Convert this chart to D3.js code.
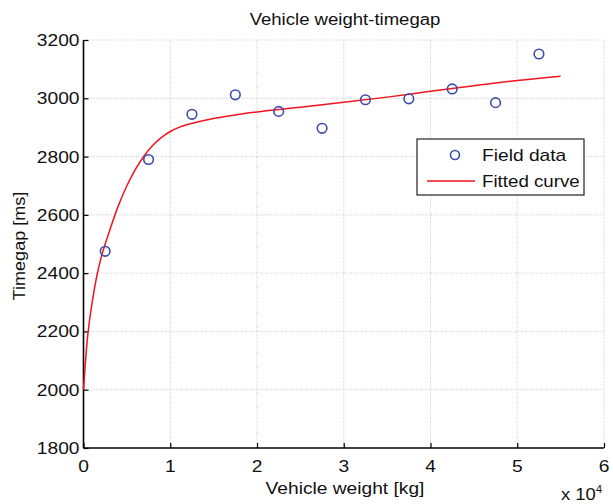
<!DOCTYPE html>
<html>
<head>
<meta charset="utf-8">
<script src="https://cdn.jsdelivr.net/npm/d3@7"></script>
<style>
  body { margin: 0; background: #fff; }
  text { font-family: "Liberation Sans", Arial, sans-serif; fill: #111; font-size: 16px; }
</style>
</head>
<body>
<div id="chart"></div>
<script>
// field data (weight in kg, timegap in ms)
var fieldWeight = [2500, 7500, 12500, 17500, 22500, 27500, 32500, 37500, 42500, 47500, 52500]
var fieldGap = [2475, 2790, 2945, 3012, 2955, 2897, 2995, 2998, 3032, 2985, 3152]

// fitted curve
var fitWeight = [0, 500, 1000, 1500, 2000, 2500, 3000, 4000, 5000, 6000, 7000, 8000, 9000, 10000, 11000, 12000, 13000, 15000, 17500, 20000, 25000, 30000, 35000, 40000, 45000, 50000, 55000]
var fitGap = [2000, 2190, 2300, 2385, 2450, 2500, 2545, 2630, 2700, 2757, 2803, 2839, 2866, 2886, 2900, 2910, 2918, 2931, 2943, 2953, 2969, 2986, 3004, 3024, 3043, 3061, 3076]

var xTicks = [0, 1, 2, 3, 4, 5, 6]
var yTicks = [1800, 2000, 2200, 2400, 2600, 2800, 3000, 3200]

var width = 613
var height = 504
var margin = { left: 83.5, right: 9, top: 40, bottom: 56 }
var sx = 1.2 // the picture's text is a bit wider than the font

var svg = d3.select("#chart")
  .append("svg")
  .attr("width", width)
  .attr("height", height)

var x = d3.scaleLinear()
  .domain([0, 60000])
  .range([margin.left, width - margin.right])

var y = d3.scaleLinear()
  .domain([1800, 3200])
  .range([height - margin.bottom, margin.top])

function wideText(parent, px, py, anchor, str, k) {
  return parent.append("text")
    .attr("transform", "translate(" + px + "," + py + ") scale(" + (k || sx) + ",1)")
    .attr("text-anchor", anchor)
    .text(str)
}

// grid
svg.append("g")
  .selectAll("line")
  .data(xTicks.slice(1))
  .enter()
  .append("line")
  .attr("x1", function (d) { return x(d * 10000) })
  .attr("x2", function (d) { return x(d * 10000) })
  .attr("y1", y(1800))
  .attr("y2", y(3200))
  .attr("stroke", "#bbb")
  .attr("stroke-width", 0.8)
  .attr("stroke-dasharray", "1,1.5")

svg.append("g")
  .selectAll("line")
  .data(yTicks.slice(1))
  .enter()
  .append("line")
  .attr("x1", x(0))
  .attr("x2", x(60000))
  .attr("y1", function (d) { return y(d) })
  .attr("y2", function (d) { return y(d) })
  .attr("stroke", "#bbb")
  .attr("stroke-width", 0.8)
  .attr("stroke-dasharray", "1,1.5")

// axes, ticks pointing inward
var xAxis = d3.axisTop(x)
  .tickValues(xTicks.map(function (d) { return d * 10000 }))
  .tickSize(5)
  .tickFormat("")

svg.append("g")
  .attr("transform", "translate(0," + y(1800) + ")")
  .call(xAxis)
  .call(function (g) {
    g.select(".domain").attr("stroke-width", 1.6).attr("d", "M" + x(0) + ",0H" + x(60000))
    g.selectAll(".tick line").attr("stroke-width", 1.2)
  })

var xLab = svg.append("g")
xTicks.forEach(function (d) {
  wideText(xLab, x(d * 10000), y(1800) + 24, "middle", d)
})

var yAxis = d3.axisRight(y)
  .tickValues(yTicks)
  .tickSize(5)
  .tickFormat("")

svg.append("g")
  .attr("transform", "translate(" + x(0) + ",0)")
  .call(yAxis)
  .call(function (g) {
    g.select(".domain").attr("stroke-width", 1.6).attr("d", "M0," + y(3200) + "V" + y(1800))
    g.selectAll(".tick line").attr("stroke-width", 1.2)
  })

var yLab = svg.append("g")
yTicks.forEach(function (d) {
  wideText(yLab, x(0) - 4, y(d) + 6, "end", d)
})

// fitted curve
var fit = fitWeight.map(function (w, i) { return [w, fitGap[i]] })

svg.append("path")
  .datum(fit)
  .attr("fill", "none")
  .attr("stroke", "#f0141e")
  .attr("stroke-width", 1.5)
  .attr("d", d3.line()
    .x(function (d) { return x(d[0]) })
    .y(function (d) { return y(d[1]) })
    .curve(d3.curveCatmullRom))

// field data
svg.append("g")
  .selectAll("circle")
  .data(fieldWeight)
  .enter()
  .append("circle")
  .attr("cx", function (d) { return x(d) })
  .attr("cy", function (d, i) { return y(fieldGap[i]) })
  .attr("r", 4.8)
  .attr("fill", "none")
  .attr("stroke", "#3c4aa8")
  .attr("stroke-width", 1.6)

// legend
var legend = svg.append("g").attr("transform", "translate(417,139)")
legend.append("rect")
  .attr("width", 167)
  .attr("height", 56)
  .attr("fill", "#fff")
  .attr("stroke", "#222")
  .attr("stroke-width", 1.2)
legend.append("circle")
  .attr("cx", 38).attr("cy", 16).attr("r", 4.5)
  .attr("fill", "none").attr("stroke", "#3c4aa8").attr("stroke-width", 1.6)
wideText(legend, 65, 22, "start", "Field data")
legend.append("line")
  .attr("x1", 10).attr("x2", 58).attr("y1", 42).attr("y2", 42)
  .attr("stroke", "#f0141e").attr("stroke-width", 1.5)
wideText(legend, 65, 48, "start", "Fitted curve", 1.17)

// titles
wideText(svg, 345, 25, "middle", "Vehicle weight-timegap", 1.16)
wideText(svg, 345, 494, "middle", "Vehicle weight [kg]")

svg.append("text")
  .attr("transform", "translate(25,246) rotate(-90) scale(1.13,1)")
  .attr("text-anchor", "middle")
  .text("Timegap [ms]")

var exp = svg.append("text")
  .attr("transform", "translate(561,500) scale(1.15,1)")
exp.append("tspan").text("x 10")
exp.append("tspan").attr("dy", -7).style("font-size", "10px").text("4")
</script>
</body>
</html>
